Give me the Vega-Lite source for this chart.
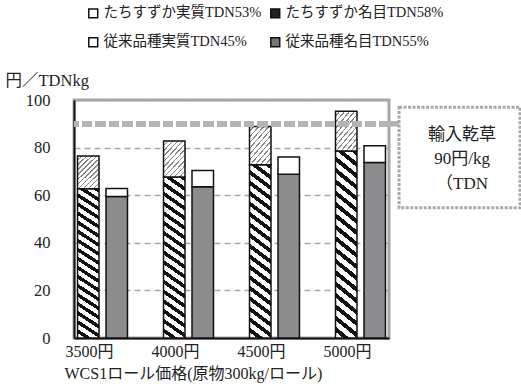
{
  "$schema": "https://vega.github.io/schema/vega-lite/v6.json",
  "background": "white",
  "padding": {"left": 3, "top": 6, "right": 0, "bottom": 0},
  "spacing": 0,
  "bounds": "flush",
  "config": {
    "concat": {"spacing": 0},
    "font": "Liberation Serif, Noto Sans CJK JP",
    "text": {"font": "Liberation Serif, Noto Sans CJK JP"}
  },
  "hconcat": [
    {
      "width": 315,
      "height": 238,
      "view": {"stroke": "#a6a6a6", "strokeWidth": 3},
      "data": {
        "values": [
          {"price": "3500円", "variety": "たちすずか", "nominal": 62.7, "actual": 76.5},
          {"price": "3500円", "variety": "従来品種", "nominal": 59.5, "actual": 62.8},
          {"price": "4000円", "variety": "たちすずか", "nominal": 67.6, "actual": 82.8},
          {"price": "4000円", "variety": "従来品種", "nominal": 63.6, "actual": 70.4},
          {"price": "4500円", "variety": "たちすずか", "nominal": 72.8, "actual": 88.9},
          {"price": "4500円", "variety": "従来品種", "nominal": 68.8, "actual": 76.0},
          {"price": "5000円", "variety": "たちすずか", "nominal": 78.6, "actual": 95.3},
          {"price": "5000円", "variety": "従来品種", "nominal": 73.7, "actual": 80.8}
        ]
      },
      "layer": [
        {
          "encoding": {
            "x": {
              "field": "price",
              "type": "nominal",
              "sort": null,
              "scale": {"paddingInner": 0.419, "paddingOuter": 0.041},
              "axis": {
                "title": "WCS1ロール価格(原物300kg/ロール)",
                "titleFont": "Liberation Serif, Noto Sans CJK JP",
                "titleFontSize": 16,
                "titleFontWeight": "normal",
                "titleColor": "#222",
                "titleAnchor": "start",
                "titleAlign": "left",
                "titleBaseline": "top",
                "titleX": -10,
                "titleY": 27,
                "labelAngle": 0,
                "labelFont": "Liberation Serif, Noto Sans CJK JP",
                "labelFontSize": 16,
                "labelColor": "#222",
                "labelOffset": -13,
                "labelPadding": 5,
                "ticks": false,
                "tickSize": 0,
                "domainColor": "#111",
                "domainWidth": 2,
                "grid": false
              }
            },
            "xOffset": {
              "field": "variety",
              "type": "nominal",
              "scale": {"domain": ["たちすずか", "従来品種"], "paddingInner": 0.246, "paddingOuter": 0}
            }
          },
          "layer": [
            {
              "transform": [{"filter": "datum.variety === 'たちすずか'"}],
              "mark": {
                "type": "bar",
                "stroke": "#111",
                "strokeWidth": 1.5,
                "fill": {
                  "gradient": "linear",
                  "x1": 0, "y1": 1, "x2": 0.101, "y2": -0.084,
                  "stops": [
                    {"offset": 0, "color": "#fff"}, {"offset": 0.0306, "color": "#fff"}, {"offset": 0.0306, "color": "#111"}, {"offset": 0.0556, "color": "#111"},
                    {"offset": 0.0556, "color": "#fff"}, {"offset": 0.0861, "color": "#fff"}, {"offset": 0.0861, "color": "#111"}, {"offset": 0.1111, "color": "#111"},
                    {"offset": 0.1111, "color": "#fff"}, {"offset": 0.1417, "color": "#fff"}, {"offset": 0.1417, "color": "#111"}, {"offset": 0.1667, "color": "#111"},
                    {"offset": 0.1667, "color": "#fff"}, {"offset": 0.1972, "color": "#fff"}, {"offset": 0.1972, "color": "#111"}, {"offset": 0.2222, "color": "#111"},
                    {"offset": 0.2222, "color": "#fff"}, {"offset": 0.2528, "color": "#fff"}, {"offset": 0.2528, "color": "#111"}, {"offset": 0.2778, "color": "#111"},
                    {"offset": 0.2778, "color": "#fff"}, {"offset": 0.3083, "color": "#fff"}, {"offset": 0.3083, "color": "#111"}, {"offset": 0.3333, "color": "#111"},
                    {"offset": 0.3333, "color": "#fff"}, {"offset": 0.3639, "color": "#fff"}, {"offset": 0.3639, "color": "#111"}, {"offset": 0.3889, "color": "#111"},
                    {"offset": 0.3889, "color": "#fff"}, {"offset": 0.4194, "color": "#fff"}, {"offset": 0.4194, "color": "#111"}, {"offset": 0.4444, "color": "#111"},
                    {"offset": 0.4444, "color": "#fff"}, {"offset": 0.475, "color": "#fff"}, {"offset": 0.475, "color": "#111"}, {"offset": 0.5, "color": "#111"},
                    {"offset": 0.5, "color": "#fff"}, {"offset": 0.5306, "color": "#fff"}, {"offset": 0.5306, "color": "#111"}, {"offset": 0.5556, "color": "#111"},
                    {"offset": 0.5556, "color": "#fff"}, {"offset": 0.5861, "color": "#fff"}, {"offset": 0.5861, "color": "#111"}, {"offset": 0.6111, "color": "#111"},
                    {"offset": 0.6111, "color": "#fff"}, {"offset": 0.6417, "color": "#fff"}, {"offset": 0.6417, "color": "#111"}, {"offset": 0.6667, "color": "#111"},
                    {"offset": 0.6667, "color": "#fff"}, {"offset": 0.6972, "color": "#fff"}, {"offset": 0.6972, "color": "#111"}, {"offset": 0.7222, "color": "#111"},
                    {"offset": 0.7222, "color": "#fff"}, {"offset": 0.7528, "color": "#fff"}, {"offset": 0.7528, "color": "#111"}, {"offset": 0.7778, "color": "#111"},
                    {"offset": 0.7778, "color": "#fff"}, {"offset": 0.8083, "color": "#fff"}, {"offset": 0.8083, "color": "#111"}, {"offset": 0.8333, "color": "#111"},
                    {"offset": 0.8333, "color": "#fff"}, {"offset": 0.8639, "color": "#fff"}, {"offset": 0.8639, "color": "#111"}, {"offset": 0.8889, "color": "#111"},
                    {"offset": 0.8889, "color": "#fff"}, {"offset": 0.9194, "color": "#fff"}, {"offset": 0.9194, "color": "#111"}, {"offset": 0.9444, "color": "#111"},
                    {"offset": 0.9444, "color": "#fff"}, {"offset": 0.975, "color": "#fff"}, {"offset": 0.975, "color": "#111"}, {"offset": 1, "color": "#111"}
                  ]
                }
              },
              "encoding": {
                "y": {
                  "field": "nominal",
                  "type": "quantitative",
                  "stack": null,
                  "scale": {"domain": [0, 100], "nice": false},
                  "axis": {
                    "values": [0, 20, 40, 60, 80, 100],
                    "title": "円／TDNkg",
                    "titleFont": "Liberation Serif, Noto Sans CJK JP",
                    "titleFontSize": 16.5,
                    "titleFontWeight": "normal",
                    "titleColor": "#222",
                    "titleAngle": 0,
                    "titleAlign": "left",
                    "titleBaseline": "middle",
                    "titleX": -69,
                    "titleY": -20,
                    "labelFont": "Liberation Serif, Noto Sans CJK JP",
                    "labelFontSize": 16.5,
                    "labelColor": "#222",
                    "labelPadding": 24,
                    "ticks": false,
                    "tickSize": 0,
                    "domainColor": "#111",
                    "domainWidth": 2,
                    "grid": true,
                    "gridColor": "#a9a9a9",
                    "gridWidth": 1.5,
                    "gridDash": [6, 4]
                  }
                }
              }
            },
            {
              "transform": [{"filter": "datum.variety === 'たちすずか'"}],
              "mark": {
                "type": "bar",
                "stroke": "#111",
                "strokeWidth": 1.5,
                "fill": {
                  "gradient": "linear",
                  "x1": 0, "y1": 0, "x2": 0.744, "y2": 1.164,
                  "stops": [
                    {"offset": 0, "color": "#fff"}, {"offset": 0.0655, "color": "#fff"}, {"offset": 0.0655, "color": "#888"}, {"offset": 0.0909, "color": "#888"},
                    {"offset": 0.0909, "color": "#fff"}, {"offset": 0.1564, "color": "#fff"}, {"offset": 0.1564, "color": "#888"}, {"offset": 0.1818, "color": "#888"},
                    {"offset": 0.1818, "color": "#fff"}, {"offset": 0.2473, "color": "#fff"}, {"offset": 0.2473, "color": "#888"}, {"offset": 0.2727, "color": "#888"},
                    {"offset": 0.2727, "color": "#fff"}, {"offset": 0.3382, "color": "#fff"}, {"offset": 0.3382, "color": "#888"}, {"offset": 0.3636, "color": "#888"},
                    {"offset": 0.3636, "color": "#fff"}, {"offset": 0.4291, "color": "#fff"}, {"offset": 0.4291, "color": "#888"}, {"offset": 0.4545, "color": "#888"},
                    {"offset": 0.4545, "color": "#fff"}, {"offset": 0.52, "color": "#fff"}, {"offset": 0.52, "color": "#888"}, {"offset": 0.5455, "color": "#888"},
                    {"offset": 0.5455, "color": "#fff"}, {"offset": 0.6109, "color": "#fff"}, {"offset": 0.6109, "color": "#888"}, {"offset": 0.6364, "color": "#888"},
                    {"offset": 0.6364, "color": "#fff"}, {"offset": 0.7018, "color": "#fff"}, {"offset": 0.7018, "color": "#888"}, {"offset": 0.7273, "color": "#888"},
                    {"offset": 0.7273, "color": "#fff"}, {"offset": 0.7927, "color": "#fff"}, {"offset": 0.7927, "color": "#888"}, {"offset": 0.8182, "color": "#888"},
                    {"offset": 0.8182, "color": "#fff"}, {"offset": 0.8836, "color": "#fff"}, {"offset": 0.8836, "color": "#888"}, {"offset": 0.9091, "color": "#888"},
                    {"offset": 0.9091, "color": "#fff"}, {"offset": 0.9745, "color": "#fff"}, {"offset": 0.9745, "color": "#888"}, {"offset": 1, "color": "#888"}
                  ]
                }
              },
              "encoding": {
                "y": {"field": "actual", "type": "quantitative", "stack": null},
                "y2": {"field": "nominal"}
              }
            },
            {
              "transform": [{"filter": "datum.variety === '従来品種'"}],
              "mark": {"type": "bar", "fill": "#8c8c8e", "stroke": "#111", "strokeWidth": 1.5},
              "encoding": {
                "y": {"field": "nominal", "type": "quantitative", "stack": null}
              }
            },
            {
              "transform": [{"filter": "datum.variety === '従来品種'"}],
              "mark": {"type": "bar", "fill": "#ffffff", "stroke": "#111", "strokeWidth": 1.5},
              "encoding": {
                "y": {"field": "actual", "type": "quantitative", "stack": null},
                "y2": {"field": "nominal"}
              }
            }
          ]
        },
        {
          "mark": {"type": "rule", "stroke": "#b4b4b4", "strokeWidth": 5.5, "strokeDash": [10, 3.5]},
          "encoding": {"y": {"datum": 90, "type": "quantitative"}}
        },
        {
          "transform": [{"filter": "false"}],
          "mark": {"type": "square"},
          "encoding": {
            "color": {
              "field": "series",
              "type": "nominal",
              "scale": {
                "domain": ["たちすずか実質TDN53%", "従来品種実質TDN45%", "たちすずか名目TDN58%", "従来品種名目TDN55%"],
                "range": ["#ffffff", "#ffffff", "#222222", "#777777"]
              },
              "legend": {
                "title": null,
                "orient": "none",
                "legendX": 12,
                "legendY": -94,
                "columns": 2,
                "columnPadding": 5,
                "rowPadding": 13,
                "symbolType": "square",
                "symbolSize": 80,
                "symbolStrokeColor": "#111",
                "symbolStrokeWidth": 1.5,
                "symbolOpacity": 1,
                "labelFont": "Liberation Serif, Noto Sans CJK JP",
                "labelFontSize": 14.5,
                "labelColor": "#222",
                "labelOffset": 3,
                "labelLimit": 300,
                "padding": 0
              }
            }
          }
        }
      ]
    },
    {
      "width": 134,
      "height": 238,
      "view": {"stroke": null},
      "data": {"values": [{}]},
      "layer": [
        {
          "mark": {"type": "rule", "stroke": "#b4b4b4", "strokeWidth": 5.5, "strokeDash": [10, 3.5]},
          "encoding": {
            "x": {"datum": 0, "type": "quantitative", "scale": {"domain": [0, 1], "nice": false}, "axis": null},
            "x2": {"datum": 0.075},
            "y": {"datum": 90, "type": "quantitative", "scale": {"domain": [0, 100], "nice": false}, "axis": null}
          }
        },
        {
          "mark": {"type": "rect", "fill": "#ffffff", "stroke": "#a8a8a8", "strokeWidth": 3, "strokeDash": [3, 1.5]},
          "encoding": {
            "x": {"datum": 0.075, "type": "quantitative"},
            "x2": {"datum": 0.978},
            "y": {"datum": 97, "type": "quantitative"},
            "y2": {"datum": 54.7}
          }
        },
        {
          "mark": {
            "type": "text",
            "font": "Liberation Serif, Noto Sans CJK JP",
            "fontSize": 17,
            "color": "#222",
            "align": "center",
            "baseline": "middle",
            "lineHeight": 24.5
          },
          "encoding": {
            "x": {"datum": 0.545, "type": "quantitative"},
            "y": {"datum": 85.3, "type": "quantitative"},
            "text": {"value": ["輸入乾草", "90円/kg", "（TDN"]}
          }
        }
      ]
    }
  ]
}
